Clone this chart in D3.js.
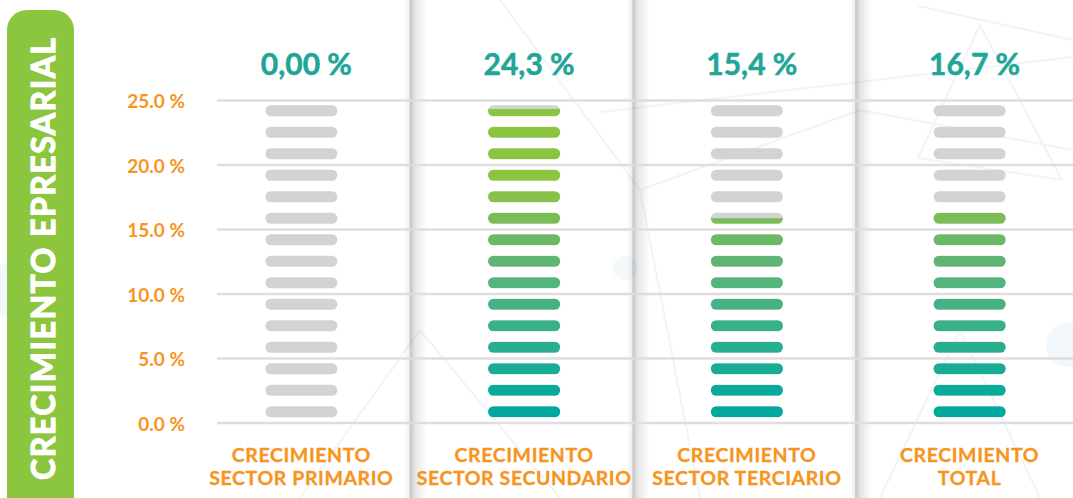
<!DOCTYPE html>
<html>
<head>
<meta charset="utf-8">
<script src="https://cdn.jsdelivr.net/npm/d3@7"></script>
<style>
  html, body { margin: 0; padding: 0; background: #ffffff; }
  svg { display: block; }
  text { font-family: Lato, "Open Sans", sans-serif; font-weight: 700; }
</style>
</head>
<body>
<svg id="chart" width="1073" height="498"></svg>
<script>
// ---- data ----
const categoryLine1 = ["CRECIMIENTO", "CRECIMIENTO", "CRECIMIENTO", "CRECIMIENTO"];
const categoryLine2 = ["SECTOR PRIMARIO", "SECTOR SECUNDARIO", "SECTOR TERCIARIO", "TOTAL"];
const values = [0.0, 24.3, 15.4, 16.7];
const valueLabels = ["0,00 %", "24,3 %", "15,4 %", "16,7 %"];
const yTicks = [0, 5, 10, 15, 20, 25];
const yMax = 25;
const segmentCount = 15;
const levelColors = ["#00a99d", "#08aa9a", "#19ac95", "#29ae90", "#38b08a", "#46b284",
                     "#53b47d", "#60b574", "#6bb867", "#7abd56", "#86c249", "#8bc53f",
                     "#8bc53f", "#8bc53f", "#8bc53f"];
const axisTitle = "CRECIMIENTO EPRESARIAL";

// ---- setup ----
const W = 1073, H = 498;
const svg = d3.select("#chart");
const defs = svg.append("defs");

const y = d3.scaleLinear().domain([0, yMax]).range([422.5, 100]);
const x = d3.scaleBand().domain(d3.range(values.length)).range([190, 1081]).padding(0);
const levels = d3.range(segmentCount);
const seg = d3.scaleBand().domain(levels).range([y(0), y(yMax)])
  .paddingInner(0.49).paddingOuter(0.245);
const step = yMax / segmentCount;
const pillW = 72;

// ---- background decoration (very faint) ----
const deco = svg.append("g").attr("fill", "none").attr("stroke", "#eef5f9").attr("stroke-width", 2);
deco.append("path").attr("d", "M980,25 L918,158 L1062,180 Z");
deco.append("path").attr("d", "M600,112 L1073,57");
deco.append("path").attr("d", "M918,6 L1073,40");
deco.append("path").attr("d", "M500,0 L640,190 L700,498");
deco.append("path").attr("d", "M640,190 L860,110 L1073,150");
deco.append("path").attr("d", "M300,498 L420,330 L560,498");
deco.append("path").attr("d", "M880,498 L960,330 L1040,498");
svg.append("circle").attr("cx", 8).attr("cy", 290).attr("r", 26).attr("fill", "#f1f7fb");
svg.append("circle").attr("cx", 1068).attr("cy", 345).attr("r", 22).attr("fill", "#f1f7fb");
svg.append("circle").attr("cx", 625).attr("cy", 268).attr("r", 12).attr("fill", "#f4f9fb");

// ---- panel shadows ----
const gradR = defs.append("linearGradient").attr("id", "shadowR").attr("x1", 0).attr("x2", 1);
gradR.append("stop").attr("offset", 0).attr("stop-color", "#000").attr("stop-opacity", 0.24);
gradR.append("stop").attr("offset", 0.3).attr("stop-color", "#000").attr("stop-opacity", 0.1);
gradR.append("stop").attr("offset", 1).attr("stop-color", "#000").attr("stop-opacity", 0);
const gradL = defs.append("linearGradient").attr("id", "shadowL").attr("x1", 0).attr("x2", 1);
gradL.append("stop").attr("offset", 0).attr("stop-color", "#000").attr("stop-opacity", 0);
gradL.append("stop").attr("offset", 1).attr("stop-color", "#000").attr("stop-opacity", 0.07);

const boundaries = d3.range(1, values.length).map(i => x(i) - 3);
svg.append("g").selectAll("rect").data(boundaries).join("rect")
  .attr("x", d => d).attr("y", 0).attr("width", 17).attr("height", H)
  .attr("fill", "url(#shadowR)");
svg.append("g").selectAll("rect").data(boundaries).join("rect")
  .attr("x", d => d - 6).attr("y", 0).attr("width", 6).attr("height", H)
  .attr("fill", "url(#shadowL)");

// ---- grid / y axis ----
const axisX = 217;
const axis = d3.axisLeft(y).tickValues(yTicks)
  .tickSize(-(W - axisX)).tickPadding(32)
  .tickFormat(d => d3.format(".1f")(d) + " %");
const gAxis = svg.append("g").attr("transform", `translate(${axisX},0)`).call(axis);
gAxis.select(".domain").remove();
gAxis.selectAll(".tick line").attr("stroke", "#dedede").attr("stroke-width", 2.5);
gAxis.selectAll(".tick text")
  .attr("fill", "#f7941d").attr("font-size", 19).attr("font-family", "Lato, sans-serif")
  .attr("font-weight", 700).attr("dy", "0.42em");

// ---- pills ----
const cols = svg.append("g").selectAll("g.col").data(values).join("g")
  .attr("class", "col")
  .attr("transform", (d, i) => `translate(${x(i) + x.bandwidth() / 2},0)`);

cols.each(function (v, ci) {
  const g = d3.select(this);
  const h = seg.bandwidth();
  g.selectAll("rect.bg").data(levels).join("rect")
    .attr("class", "bg")
    .attr("x", -pillW / 2).attr("y", d => seg(d))
    .attr("width", pillW).attr("height", h)
    .attr("rx", h / 2).attr("fill", "#d1d3d4");
  const fills = levels.map(l => {
    let f = Math.max(0, Math.min(1, (v - l * step) / step));
    if (f < 0.05) f = 0;
    if (f > 0.95) f = 1;
    // partially reached segment: shown with a visible lower band
    const shown = (f > 0 && f < 1) ? 0.4 + 0.45 * f : f;
    return { l, f: shown };
  }).filter(o => o.f > 0);
  fills.forEach(o => {
    const id = `clip-${ci}-${o.l}`;
    const fh = h * o.f;
    defs.append("clipPath").attr("id", id).append("rect")
      .attr("x", -pillW).attr("y", seg(o.l) + h - fh)
      .attr("width", pillW * 2).attr("height", fh);
  });
  g.selectAll("rect.fg").data(fills).join("rect")
    .attr("class", "fg")
    .attr("clip-path", o => `url(#clip-${ci}-${o.l})`)
    .attr("x", -pillW / 2).attr("y", o => seg(o.l))
    .attr("width", pillW).attr("height", h)
    .attr("rx", h / 2).attr("fill", o => levelColors[o.l]);
});

// ---- value labels ----
svg.append("g").selectAll("text").data(valueLabels).join("text")
  .attr("x", (d, i) => x(i) + x.bandwidth() / 2 + 5)
  .attr("y", 75)
  .attr("text-anchor", "middle")
  .attr("fill", "#20a596").attr("stroke", "#20a596").attr("stroke-width", 0.5)
  .attr("font-size", 30)
  .text(d => d);

// ---- category labels ----
const cat = svg.append("g").selectAll("text").data(categoryLine1).join("text")
  .attr("text-anchor", "middle").attr("fill", "#f7941d")
  .attr("stroke", "#f7941d").attr("stroke-width", 0.3)
  .attr("font-size", 19.5).attr("letter-spacing", 0.6);
cat.append("tspan").attr("x", (d, i) => x(i) + x.bandwidth() / 2).attr("y", 462).text(d => d);
cat.append("tspan").attr("x", (d, i) => x(i) + x.bandwidth() / 2).attr("y", 485)
  .text((d, i) => categoryLine2[i]);

// ---- left title box ----
svg.append("rect").attr("x", 7).attr("y", 10).attr("width", 67).attr("height", 520)
  .attr("rx", 20).attr("fill", "#8cc63f");
svg.append("text")
  .attr("transform", "translate(55,259) rotate(-90)")
  .attr("text-anchor", "middle")
  .attr("fill", "#ffffff").attr("stroke", "#ffffff").attr("stroke-width", 1.2)
  .attr("font-size", 32)
  .attr("textLength", 442).attr("lengthAdjust", "spacing")
  .text(axisTitle);
</script>
</body>
</html>
